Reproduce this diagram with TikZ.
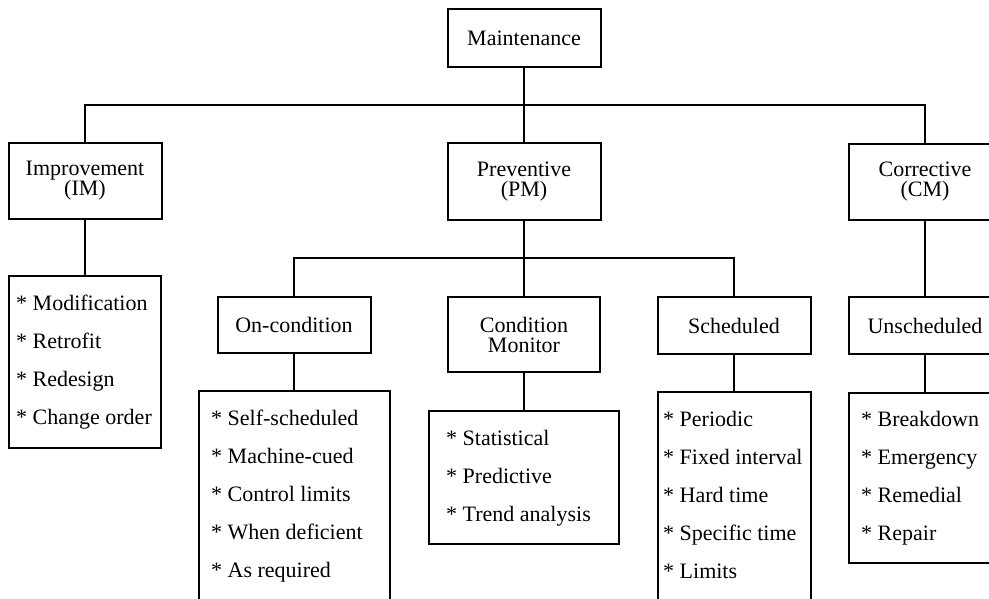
\documentclass[tikz,border=0pt]{standalone}
\usepackage{fontspec}
\setmainfont{Liberation Serif}
\lineskiplimit=-30pt\relax
\begin{document}
\begin{tikzpicture}[x=1pt,y=-1pt,
  every node/.style={font=\fontsize{22}{20}\selectfont},
  box/.style={draw, line width=2pt, inner sep=0pt, align=center, minimum width=153pt},
  item/.style={anchor=base west, inner sep=0pt},
  conn/.style={line width=2pt, line join=miter}]
\useasboundingbox (0,0) rectangle (989,599);
\clip (0,0) rectangle (989,599);
% level 0
\node[box, minimum height=58pt] (maint) at (524,38) {Maintenance};
% level 1
\node[box, minimum height=76pt] (imp) at (85,181) {Improvement\\(IM)};
\node[box, minimum height=77pt] (prev) at (524,181.5) {Preventive\\(PM)};
\node[box, minimum height=76pt] (corr) at (925,182) {Corrective\\(CM)};
% level 2
\node[box, minimum height=56pt] (oncond) at (294,325) {On-condition};
\node[box, minimum width=152pt, minimum height=75pt] (condmon) at (524,334.5) {Condition\\Monitor};
\node[box, minimum height=57pt] (sched) at (734,325.5) {Scheduled};
\node[box, minimum height=57pt] (unsched) at (925,325.5) {Unscheduled};
% lists
\node[box, minimum width=152pt, minimum height=172pt] (imlist) at (85,362) {};
\node[box, minimum width=191pt, minimum height=230pt] (onlist) at (294,506) {};
\node[box, minimum width=190pt, minimum height=133pt] (cmlist) at (524,477.5) {};
\node[box, minimum height=230pt] (schedlist) at (734,507) {};
\node[box, minimum height=170pt] (unlist) at (925,478) {};
% list texts
\foreach \t [count=\i] in {Modification, Retrofit, Redesign, Change order}
  \node[item] (im\i) at (16,272+38*\i) {* \t};
\foreach \t [count=\i] in {Self-scheduled, Machine-cued, Control limits, When deficient, As required}
  \node[item] (on\i) at (211,387+38*\i) {* \t};
\foreach \t [count=\i] in {Statistical, Predictive, Trend analysis}
  \node[item] (cm\i) at (446,407+38*\i) {* \t};
\foreach \t [count=\i] in {Periodic, Fixed interval, Hard time, Specific time, Limits}
  \node[item] (sc\i) at (663,388+38*\i) {* \t};
\foreach \t [count=\i] in {Breakdown, Emergency, Remedial, Repair}
  \node[item] (un\i) at (861,388+38*\i) {* \t};
% connectors
\coordinate (bus) at (524,105);
\coordinate (pmbus) at (524,258);
\draw[conn] (maint.south) -- (prev.north);
\draw[conn] (imp.north) |- (bus) -| (corr.north);
\draw[conn] (prev.south) -- (condmon.north);
\draw[conn] (oncond.north) |- (pmbus) -| (sched.north);
\draw[conn] (imp.south) -- (imlist.north);
\draw[conn] (oncond.south) -- (onlist.north);
\draw[conn] (condmon.south) -- (cmlist.north);
\draw[conn] (sched.south) -- (schedlist.north);
\draw[conn] (corr.south) -- (unsched.north);
\draw[conn] (unsched.south) -- (unlist.north);
\end{tikzpicture}
\end{document}
